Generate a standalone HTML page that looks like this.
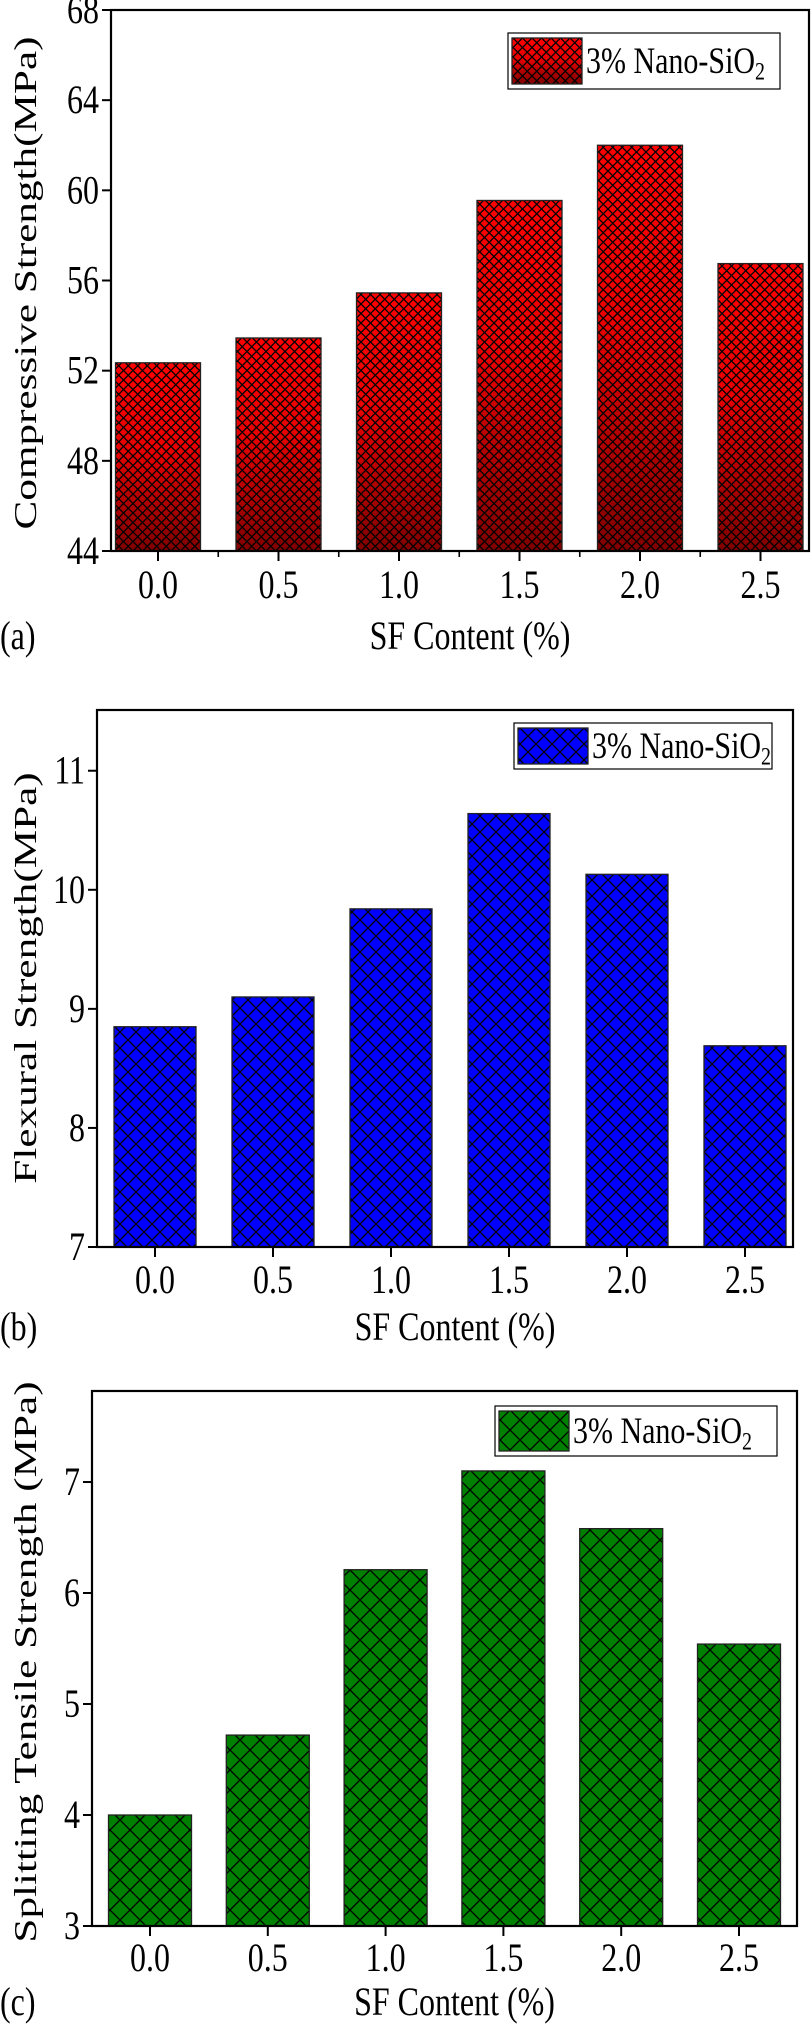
<!DOCTYPE html>
<html><head><meta charset="utf-8">
<style>
html,body{margin:0;padding:0;background:#fff;}
svg{display:block;font-family:"Liberation Serif","Times New Roman",serif;}
</style></head>
<body>
<svg id="fig" width="811" height="2028" viewBox="0 0 811 2028" xmlns="http://www.w3.org/2000/svg">
<defs>
  <linearGradient id="redGrad" x1="0" y1="0" x2="0" y2="1">
    <stop offset="0" stop-color="#ff0000"/>
    <stop offset="0.45" stop-color="#e80000"/>
    <stop offset="1" stop-color="#800000"/>
  </linearGradient>
  <pattern id="hatchA" patternUnits="userSpaceOnUse" width="9.5" height="9.5">
    <path d="M0,0 L9.5,9.5 M9.5,0 L0,9.5" stroke="#000" stroke-width="1.3" fill="none"/>
  </pattern>
  <pattern id="hatchB" patternUnits="userSpaceOnUse" width="16" height="16">
    <path d="M0,0 L16,16 M16,0 L0,16" stroke="#000" stroke-width="1.3" fill="none"/>
  </pattern>
  <pattern id="hatchC" patternUnits="userSpaceOnUse" width="20" height="20">
    <path d="M0,0 L20,20 M20,0 L0,20" stroke="#000" stroke-width="1.3" fill="none"/>
  </pattern>
</defs>
</svg>
<script>
const categories = ["0.0","0.5","1.0","1.5","2.0","2.5"];
const compressiveValues = [52.35, 53.45, 55.45, 59.55, 62.0, 56.75];
const flexuralValues = [8.85, 9.1, 9.84, 10.64, 10.13, 8.69];
const tensileValues = [4.0, 4.72, 6.21, 7.1, 6.58, 5.54];
const compressiveTicks = [44, 48, 52, 56, 60, 64, 68];
const flexuralTicks = [7, 8, 9, 10, 11];
const tensileTicks = [3, 4, 5, 6, 7];

const NS = "http://www.w3.org/2000/svg";
const svg = document.getElementById("fig");
const FS = 32, SY = 1.25;
function mk(tag, attrs, parent){
  const e = document.createElementNS(NS, tag);
  for (const k in attrs) e.setAttribute(k, attrs[k]);
  (parent||svg).appendChild(e);
  return e;
}
function txt(parent, x, y, anchor, size, str){
  const t = mk("text", {x:0, y:0, "text-anchor":anchor, "font-size":size,
    transform:"translate("+x+","+y+") scale(1,"+SY+")"}, parent);
  t.textContent = str;
  return t;
}

function drawChart(cfg){
  const g = mk("g", {});
  
  
  const yScale = v => cfg.bottom - (v - cfg.yMin) / (cfg.yMax - cfg.yMin) * (cfg.bottom - cfg.top);
  const xScale = i => cfg.x0 + i * cfg.dx;

  cfg.values.forEach((v, i) => {
    const x = xScale(i) - cfg.bw/2, y = yScale(v), h = cfg.bottom - y;
    const bg = mk("g", {}, g);
    
    
    mk("rect", {x:x, y:y, width:cfg.bw, height:h, fill:cfg.fill}, bg);
    mk("rect", {x:x, y:y, width:cfg.bw, height:h, fill:"url(#"+cfg.hatch+")", stroke:"#222", "stroke-width":1.3}, bg);
  });

  const fr = mk("rect", {x:cfg.left, y:cfg.top, width:cfg.right-cfg.left, height:cfg.bottom-cfg.top, fill:"none", stroke:"#000", "stroke-width":2.2}, g);
  
  

  cfg.ticks.forEach(t => {
    const y = yScale(t);
    mk("line", {x1:cfg.left-9, x2:cfg.left, y1:y, y2:y, stroke:"#000", "stroke-width":2}, g);
    const tx = txt(g, cfg.left-12, y+13, "end", FS, String(t));
    
    
  });

  categories.forEach((c, i) => {
    const x = xScale(i);
    mk("line", {x1:x, x2:x, y1:cfg.bottom, y2:cfg.bottom+10, stroke:"#000", "stroke-width":2}, g);
    if (cfg.minor && i < categories.length - 1) {
      const xm = x + cfg.dx/2;
      mk("line", {x1:xm, x2:xm, y1:cfg.bottom, y2:cfg.bottom+6, stroke:"#000", "stroke-width":1.6}, g);
    }
    const tx = txt(g, x, cfg.labelY, "middle", FS, c);
    
    
  });

  const xt = txt(g, (cfg.left+cfg.right)/2+10, cfg.titleY, "middle", FS, "SF Content (%)");
  
  

  const pl = txt(g, 0, cfg.titleY, "start", FS, cfg.panel);
  
  

  const yt = mk("text", {x:0, y:0, "text-anchor":"middle", "font-size":FS,
    transform:"translate("+cfg.ytX+","+cfg.ytY+") rotate(-90) scale(1.35,1)"}, g);
  yt.textContent = cfg.ytitle;
  
  

  const lg = mk("g", {}, g);
  
  
  const L = cfg.legend;
  mk("rect", {x:L.x, y:L.y, width:L.w, height:L.h, fill:"#fff", stroke:"#000", "stroke-width":1.2}, lg);
  mk("rect", {x:L.x+4, y:L.y+5, width:70, height:L.h-10, fill:cfg.fill}, lg);
  mk("rect", {x:L.x+4, y:L.y+5, width:70, height:L.h-10, fill:"url(#"+cfg.hatch+")", stroke:"#222", "stroke-width":1.3}, lg);
  const lt = txt(lg, L.x+78, L.y+L.h/2+12, "start", 30, "3% Nano-SiO");
  
  
  const sub = mk("tspan", {"font-size":20, dy:5}, lt);
  sub.textContent = "2";
}

drawChart({name:"compressive-chart", values:compressiveValues, ticks:compressiveTicks, yMin:44, yMax:68,
  left:111, right:809, top:10, bottom:551, x0:158, dx:120.5, bw:85, fill:"url(#redGrad)", hatch:"hatchA", minor:true,
  labelY:598, titleY:649, panel:"(a)", ytitle:"Compressive Strength(MPa)", ytX:36, ytY:283,
  legend:{x:508, y:33, w:272, h:56}});

drawChart({name:"flexural-chart", values:flexuralValues, ticks:flexuralTicks, yMin:7, yMax:11.51,
  left:97, right:793, top:710, bottom:1247, x0:155, dx:118, bw:82, fill:"#0000ff", hatch:"hatchB", minor:false,
  labelY:1293, titleY:1340, panel:"(b)", ytitle:"Flexural Strength(MPa)", ytX:36, ytY:978,
  legend:{x:514, y:723, w:258, h:46}});

drawChart({name:"tensile-chart", values:tensileValues, ticks:tensileTicks, yMin:3, yMax:7.82,
  left:92, right:797, top:1391, bottom:1926, x0:150, dx:117.8, bw:83, fill:"#008000", hatch:"hatchC", minor:false,
  labelY:1971, titleY:2015, panel:"(c)", ytitle:"Splitting Tensile Strength (MPa)", ytX:36, ytY:1662,
  legend:{x:495, y:1406, w:282, h:50}});
</script>
</body></html>
